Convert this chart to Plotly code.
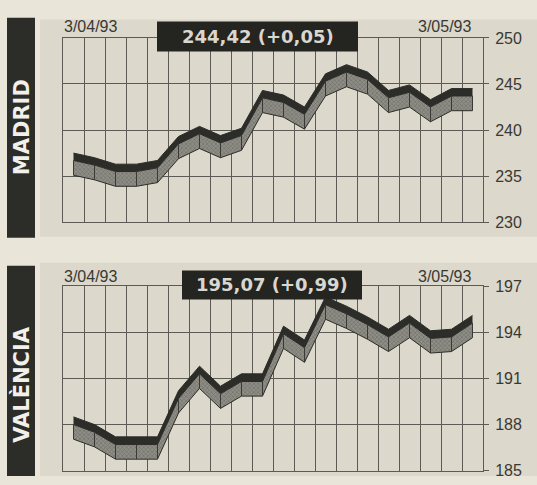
import plotly.graph_objects as go

W, H = 537, 485

# ---------------- data ----------------
days = list(range(20))
madrid = [237.5, 237.0, 236.3, 236.3, 236.7, 239.3, 240.4, 239.4, 240.2, 244.3,
          243.8, 242.5, 246.1, 247.1, 246.3, 244.3, 244.9, 243.3, 244.5, 244.5]
valencia = [188.5, 188.0, 187.2, 187.2, 187.2, 190.2, 191.8, 190.5, 191.3, 191.3,
            194.4, 193.5, 196.3, 195.7, 195.0, 194.2, 195.1, 194.1, 194.2, 195.1]
madrid_ticks = [230, 235, 240, 245, 250]
valencia_ticks = [185, 188, 191, 194, 197]
start_label, end_label = "3/04/93", "3/05/93"
madrid_title, valencia_title = "MADRID", "VALÈNCIA"
madrid_box, valencia_box = "244,42 (+0,05)", "195,07 (+0,99)"

PAPER = "#e9e5d9"
PANEL = "#dcd8cb"
PLOT = "#e9e5da"
GRID = "#5b5a55"
INK = "#393834"
DARK = "#2c2c28"
HATCH_BG = "#8f8e86"


def xp(px):
    return px / W


def yp(py):
    return 1 - py / H


fig = go.Figure()


def ribbon(values, d1, d2, xa, ya):
    top = values
    mid = [v - d1 for v in values]
    bot = [v - d1 - d2 for v in values]
    # hatched front face
    fig.add_trace(go.Scatter(x=days, y=bot, mode="lines", line=dict(color=DARK, width=1),
                             xaxis=xa, yaxis=ya, showlegend=False, hoverinfo="skip"))
    fig.add_trace(go.Scatter(x=days, y=mid, mode="lines", line=dict(color=DARK, width=1),
                             fill="tonexty", fillcolor=HATCH_BG,
                             fillpattern=dict(shape="x", size=3, solidity=0.35,
                                              fgcolor="#4a4944", bgcolor=HATCH_BG),
                             xaxis=xa, yaxis=ya, showlegend=False, hoverinfo="skip"))
    # dark top face
    fig.add_trace(go.Scatter(x=days, y=top, mode="lines", line=dict(color=DARK, width=1),
                             fill="tonexty", fillcolor=DARK,
                             xaxis=xa, yaxis=ya, showlegend=False, hoverinfo="skip"))
    # vertical dividers at each vertex on front face
    vx, vy = [], []
    for i, d in enumerate(days):
        vx += [d, d, None]
        vy += [mid[i], bot[i], None]
    fig.add_trace(go.Scatter(x=vx, y=vy, mode="lines", line=dict(color="#3a3935", width=1),
                             xaxis=xa, yaxis=ya, showlegend=False, hoverinfo="skip"))


ribbon(madrid, 0.8, 1.6, "x", "y")
ribbon(valencia, 0.5, 0.95, "x2", "y2")

xdom = [xp(63), xp(483)]
xaxis_common = dict(range=[-0.5, 19.5], tickvals=[i + 0.5 for i in range(19)],
                    showticklabels=False, ticks="", showgrid=True, gridcolor=GRID,
                    gridwidth=1, showline=True, mirror=True, linecolor=GRID, linewidth=1,
                    zeroline=False, domain=xdom, fixedrange=True)
yaxis_common = dict(side="right", showgrid=True, gridcolor=GRID, gridwidth=1,
                    showline=True, mirror=True, linecolor=GRID, linewidth=1,
                    ticks="outside", ticklen=5, tickcolor=GRID, zeroline=False,
                    tickfont=dict(family="Liberation Sans, Arial", size=16, color=INK),
                    ticklabelstandoff=3)

fig.update_layout(
    width=W, height=H,
    margin=dict(l=0, r=0, t=0, b=0),
    paper_bgcolor=PAPER, plot_bgcolor=PLOT,
    xaxis=dict(**xaxis_common, anchor="y"),
    yaxis=dict(**yaxis_common, range=[230, 250], tickvals=madrid_ticks,
               domain=[yp(222), yp(31)], anchor="x"),
    xaxis2=dict(**xaxis_common, anchor="y2"),
    yaxis2=dict(**yaxis_common, range=[185, 197], tickvals=valencia_ticks,
                domain=[yp(479.5), yp(288.3)], anchor="x2"),
)

shapes = [
    # panel backgrounds
    dict(type="rect", xref="paper", yref="paper", x0=xp(40), x1=1, y0=yp(237), y1=yp(12),
         fillcolor=PANEL, line=dict(width=0), layer="below"),
    dict(type="rect", xref="paper", yref="paper", x0=xp(40), x1=1, y0=0, y1=yp(264),
         fillcolor=PANEL, line=dict(width=0), layer="below"),
    # side title boxes
    dict(type="rect", xref="paper", yref="paper", x0=xp(7), x1=xp(35), y0=yp(238), y1=yp(10),
         fillcolor=DARK, line=dict(width=0), layer="above"),
    dict(type="rect", xref="paper", yref="paper", x0=xp(7), x1=xp(35), y0=0, y1=yp(267),
         fillcolor=DARK, line=dict(width=0), layer="above"),
    # value boxes
    dict(type="rect", xref="paper", yref="paper", x0=xp(157), x1=xp(358), y0=yp(45), y1=yp(14),
         fillcolor="#242420", line=dict(width=0), layer="above"),
    dict(type="rect", xref="paper", yref="paper", x0=xp(182), x1=xp(362), y0=yp(302), y1=yp(272),
         fillcolor="#242420", line=dict(width=0), layer="above"),
]

date_font = dict(family="Liberation Sans, Arial", size=16, color=INK)
box_font = dict(family="DejaVu Sans", size=18, color="#d9d7cf")
title_font = dict(family="DejaVu Sans", size=21, color="#f2f0ea")

annotations = [
    dict(text=start_label, x=xp(62), y=yp(19), xanchor="left", yanchor="middle", font=date_font),
    dict(text=end_label, x=xp(473), y=yp(19), xanchor="right", yanchor="middle", font=date_font),
    dict(text=start_label, x=xp(62), y=yp(278), xanchor="left", yanchor="middle", font=date_font),
    dict(text=end_label, x=xp(473), y=yp(278), xanchor="right", yanchor="middle", font=date_font),
    dict(text="<b>" + madrid_box + "</b>", x=xp(257.5), y=yp(29.5), xanchor="center",
         yanchor="middle", font=box_font),
    dict(text="<b>" + valencia_box + "</b>", x=xp(272), y=yp(287), xanchor="center",
         yanchor="middle", font=box_font),
    dict(text="<b>" + madrid_title + "</b>", x=xp(21.5), y=yp(124), textangle=-90,
         xanchor="center", yanchor="middle", font=title_font),
    dict(text="<b>" + valencia_title + "</b>", x=xp(21.5), y=yp(390), textangle=-90,
         xanchor="center", yanchor="middle", font=title_font),
]
for a in annotations:
    a.update(xref="paper", yref="paper", showarrow=False)

fig.update_layout(shapes=shapes, annotations=annotations)

fig.write_html("out.html", config={"displayModeBar": False},
               post_script="document.body.style.margin='0';document.body.style.overflow='hidden';")
